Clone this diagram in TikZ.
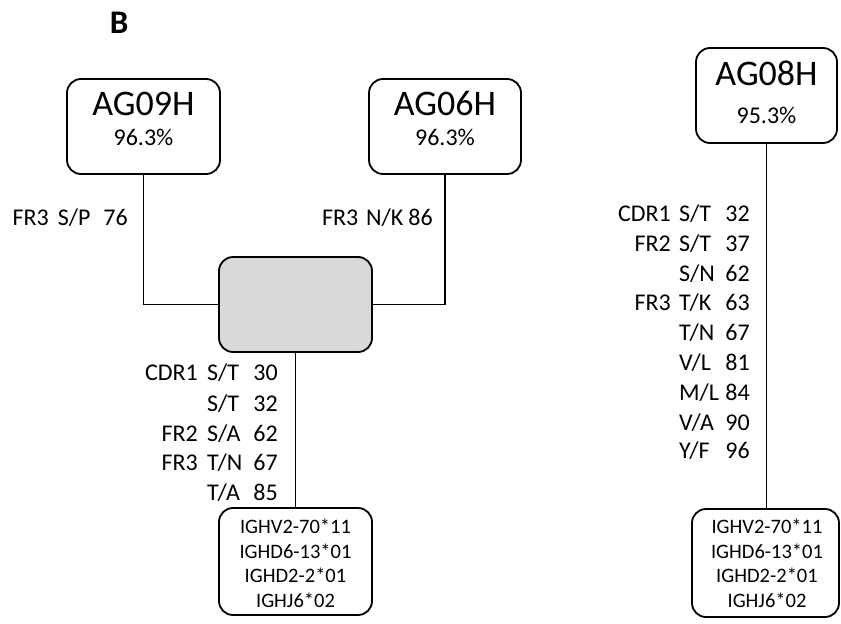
\documentclass[tikz,border=0pt]{standalone}
\usepackage{fontspec}
\setmainfont{Carlito}
\begin{document}
\begin{tikzpicture}[x=1pt,y=-1pt,
  boxx/.style={draw, rounded corners=14pt, line width=1.8pt, inner sep=0pt},
  conn/.style={line width=1.8pt},
  ttl/.style={font=\fontsize{36}{40}\selectfont, anchor=base, inner sep=0pt},
  pct/.style={font=\fontsize{24}{28}\selectfont, anchor=base, inner sep=0pt},
  mut/.style={font=\fontsize{24}{28}\selectfont, inner sep=0pt},
  gene/.style={font=\fontsize{20.5}{24}\selectfont, anchor=base, inner sep=0pt}]
\useasboundingbox (0,0) rectangle (841,624);

\node[font=\bfseries\fontsize{33}{36}\selectfont, anchor=base, inner sep=0pt] (lblB) at (119,33) {B};

% boxes
\node[boxx, minimum width=153pt, minimum height=95pt] (ag09) at (143.5,126.5) {};
\node[boxx, minimum width=152pt, minimum height=95pt] (ag06) at (445,126.5) {};
\node[boxx, fill=black!15, minimum width=153pt, minimum height=95pt] (gray) at (295.5,304.5) {};
\node[boxx, minimum width=141pt, minimum height=95pt] (ag08) at (766.5,95.5) {};
\node[boxx, minimum width=153pt, minimum height=107pt] (genel) at (295.5,561.5) {};
\node[boxx, minimum width=147pt, minimum height=108pt] (gener) at (765.5,563) {};

% connectors
\draw[conn] (ag09.south) |- (gray.west);
\draw[conn] (ag06.south) |- (gray.east);
\draw[conn] (gray.south) -- (genel.north);
\draw[conn] (ag08.south) -- (ag08.south |- gener.north);

% titles
\node[ttl] (t09) at (143.5,115) {AG09H};
\node[pct] (p09) at (143.5,145) {96.3\%};
\node[ttl] (t06) at (445,115) {AG06H};
\node[pct] (p06) at (445,145) {96.3\%};
\node[ttl] (t08) at (766.5,85) {AG08H};
\node[pct] (p08) at (766.5,123) {95.3\%};

% top labels
\node[mut, anchor=base east] (m76) at (128,225) {FR3\hspace{9pt}S/P\hspace{13pt}76};
\node[mut, anchor=base east] (m86) at (433,225) {FR3\hspace{8pt}N/K\hspace{5pt}86};

% lower-left labels
\node[mut, anchor=base east] (lr1) at (198,380) {CDR1};
\node[mut, anchor=base west] (lm1) at (207,380) {S/T};
\node[mut, anchor=base east] (ln1) at (278,380) {30};
\node[mut, anchor=base west] (lm2) at (207,411) {S/T};
\node[mut, anchor=base east] (ln2) at (278,411) {32};
\node[mut, anchor=base east] (lr3) at (198,441) {FR2};
\node[mut, anchor=base west] (lm3) at (207,441) {S/A};
\node[mut, anchor=base east] (ln3) at (278,441) {62};
\node[mut, anchor=base east] (lr4) at (198,470) {FR3};
\node[mut, anchor=base west] (lm4) at (207,470) {T/N};
\node[mut, anchor=base east] (ln4) at (278,470) {67};
\node[mut, anchor=base west] (lm5) at (207,500) {T/A};
\node[mut, anchor=base east] (ln5) at (278,500) {85};

% right labels
\node[mut, anchor=base east] (rr1) at (671,221) {CDR1};
\node[mut, anchor=base west] (rm1) at (679,221) {S/T};
\node[mut, anchor=base east] (rn1) at (750,221) {32};
\node[mut, anchor=base east] (rr2) at (671,251) {FR2};
\node[mut, anchor=base west] (rm2) at (679,251) {S/T};
\node[mut, anchor=base east] (rn2) at (750,251) {37};
\node[mut, anchor=base west] (rm3) at (679,281) {S/N};
\node[mut, anchor=base east] (rn3) at (750,281) {62};
\node[mut, anchor=base east] (rr4) at (671,310) {FR3};
\node[mut, anchor=base west] (rm4) at (679,310) {T/K};
\node[mut, anchor=base east] (rn4) at (750,310) {63};
\node[mut, anchor=base west] (rm5) at (679,340) {T/N};
\node[mut, anchor=base east] (rn5) at (750,340) {67};
\node[mut, anchor=base west] (rm6) at (679,370) {V/L};
\node[mut, anchor=base east] (rn6) at (750,370) {81};
\node[mut, anchor=base west] (rm7) at (679,400) {M/L};
\node[mut, anchor=base east] (rn7) at (750,400) {84};
\node[mut, anchor=base west] (rm8) at (679,430) {V/A};
\node[mut, anchor=base east] (rn8) at (750,430) {90};
\node[mut, anchor=base west] (rm9) at (679,458) {Y/F};
\node[mut, anchor=base east] (rn9) at (750,458) {96};

% gene lists
\node[gene] (gl1) at (295.5,533) {IGHV2-70*11};
\node[gene] (gl2) at (295.5,558) {IGHD6-13*01};
\node[gene] (gl3) at (295.5,582) {IGHD2-2*01};
\node[gene] (gl4) at (295.5,607) {IGHJ6*02};
\node[gene] (gr1) at (767,533) {IGHV2-70*11};
\node[gene] (gr2) at (767,558) {IGHD6-13*01};
\node[gene] (gr3) at (767,582) {IGHD2-2*01};
\node[gene] (gr4) at (767,607) {IGHJ6*02};
\end{tikzpicture}
\end{document}
